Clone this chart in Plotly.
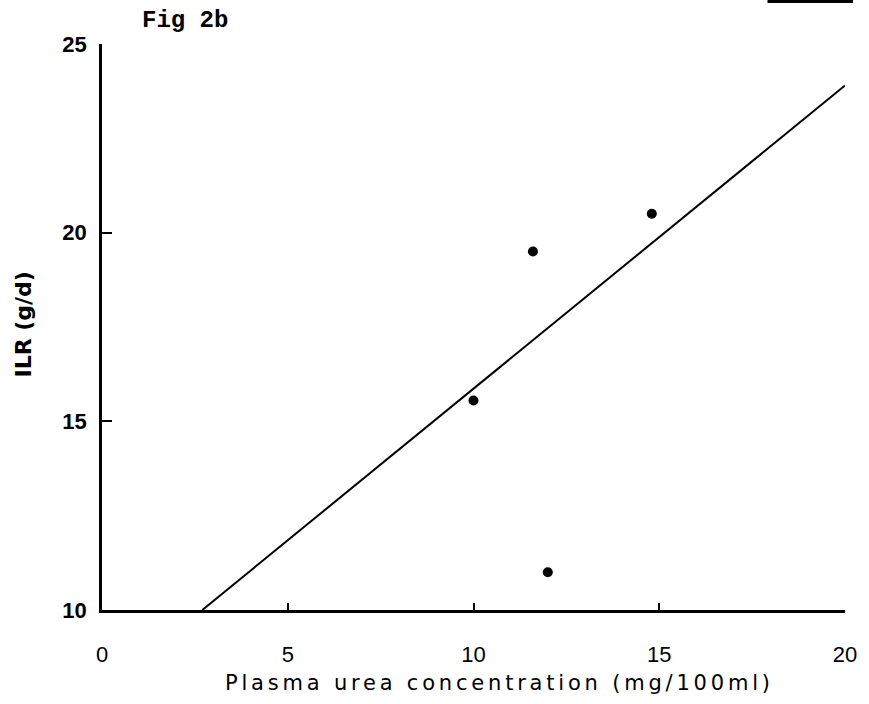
import plotly.graph_objects as go

# Data
urea = [10.0, 11.6, 14.8, 12.0]          # Plasma urea concentration (mg/100ml)
ilr = [15.55, 19.5, 20.5, 11.0]           # ILR (g/d)

fit_x = [2.7, 20.0]
fit_y = [10.0, 23.9]

x_ticks = [0, 5, 10, 15, 20]
y_ticks = [10, 15, 20, 25]

L, R, T, B = 102, 19, 44, 94
PW = 869 - L - R
PH = 704 - T - B


def px(x):
    return (x - L) / PW


def py(y):
    return (704 - B - y) / PH


fig = go.Figure()
fig.add_trace(go.Scatter(x=fit_x, y=fit_y, mode="lines",
                         line=dict(color="black", width=2), showlegend=False,
                         cliponaxis=False))
fig.add_trace(go.Scatter(x=urea, y=ilr, mode="markers",
                         marker=dict(color="black", size=10), showlegend=False))

fig.update_layout(
    width=869, height=704,
    margin=dict(l=L, r=R, t=T, b=B),
    paper_bgcolor="white", plot_bgcolor="white",
    font=dict(family="Liberation Sans, Arial, sans-serif", color="black"),
    xaxis=dict(range=[0, 20], tickvals=x_ticks, ticktext=[str(v) for v in x_ticks],
               showgrid=False, zeroline=False, showline=True, linecolor="black",
               linewidth=2.5, ticks="inside", ticklen=7, tickwidth=2, tickcolor="black",
               tickfont=dict(size=22), ticklabelstandoff=23),
    yaxis=dict(range=[10, 25], tickvals=y_ticks, ticktext=[str(v) for v in y_ticks],
               showgrid=False, zeroline=False, showline=True, linecolor="black",
               linewidth=2.5, ticks="inside", ticklen=10, tickwidth=2, tickcolor="black",
               tickfont=dict(size=22, weight="bold"), ticklabelstandoff=8),
    shapes=[dict(type="rect", xref="paper", yref="paper", x0=px(772), x1=px(858),
                 y0=py(3), y1=py(0), fillcolor="black", line=dict(width=0))],
    annotations=[
        dict(text="Fig 2b", xref="paper", yref="paper", x=px(140),
             y=py(21), xanchor="left", yanchor="middle", showarrow=False,
             font=dict(family="Liberation Mono, Courier New, monospace", size=24,
                       weight="bold")),
        dict(text='<span style="letter-spacing:3.8px">Plasma urea concentration (mg/100ml)</span>',
             xref="paper", yref="paper",
             x=px(502), y=py(683), xanchor="center", yanchor="middle",
             showarrow=False, font=dict(family="DejaVu Sans", size=21)),
        dict(text="<b>ILR (g/d)</b>", xref="paper", yref="paper", x=px(22),
             y=py(325), xanchor="center", yanchor="middle", textangle=-90,
             showarrow=False, font=dict(family="DejaVu Sans", size=22)),
    ],
)

fig.write_html("out.html")
